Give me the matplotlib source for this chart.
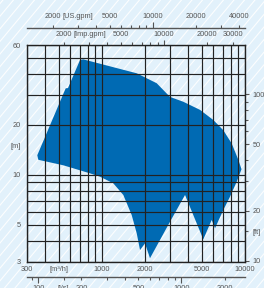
import numpy as np
import matplotlib.pyplot as plt
from matplotlib.lines import Line2D
from matplotlib.ticker import FixedLocator

plt.rcParams['font.family'] = ['Liberation Sans', 'DejaVu Sans']

# outline of the pump range, flow [m3/h] / head [m]
flow = [354, 559, 580, 704, 742, 1752, 2058, 2416, 2993, 3708, 4850, 6007, 7054,
        8077, 8982, 9454, 8752, 7857, 7054, 6173, 5852, 5113, 3811, 2993, 2169,
        2002, 1848, 1752, 1616, 1412, 1202, 971, 827, 538, 360]
head = [13.1, 33.0, 33.1, 48.8, 49.2, 40.6, 37.9, 35.4, 29.3, 27.4, 24.5, 21.3, 18.5,
        15.4, 12.3, 10.8, 9.09, 7.39, 6.15, 4.78, 5.36, 4.10, 7.57, 5.23, 3.16,
        3.88, 3.54, 4.46, 5.74, 7.57, 8.89, 9.74, 10.2, 11.4, 12.3]

# main scales
x_grid = [300, 400, 500, 600, 700, 800, 900, 1000, 2000, 3000, 4000, 5000,
          6000, 7000, 8000, 9000, 10000]
x_lab = {300: '300', 500: '[m³/h]', 1000: '1000', 2000: '2000', 5000: '5000',
         10000: '10000'}
y_grid = [3, 4, 5, 6, 7, 8, 9, 10, 20, 30, 40, 50, 60]
y_lab = {3: '3', 5: '5', 10: '10', 15: '[m]', 20: '20', 60: '60'}

# extra scales
us_major = [10000]
us_minor = [2000, 3000, 4000, 5000, 6000, 7000, 8000, 9000, 20000, 30000, 40000]
us_lab = {2000: '2000', 3000: '[US.gpm]', 5000: '5000', 10000: '10000',
          20000: '20000', 40000: '40000'}
imp_major = [10000]
imp_minor = [2000, 3000, 4000, 5000, 6000, 7000, 8000, 9000, 20000, 30000]
imp_lab = {2000: '2000', 3000: '[Imp.gpm]', 5000: '5000', 10000: '10000',
           20000: '20000', 30000: '30000'}
ls_major = [100, 1000]
ls_minor = [90, 150, 200, 300, 400, 500, 600, 700, 800, 900, 2000]
ls_lab = {100: '100', 150: '[l/s]', 200: '200', 500: '500', 1000: '1000', 2000: '2000'}
ft_major = [10, 20, 50, 100]
ft_minor = [15, 30, 40, 60, 70, 80, 90]
ft_lab = {10: '10', 15: '[ft]', 20: '20', 50: '50', 100: '100'}

BLUE = '#006ab3'
TXT = '#555555'
GRID = '#222222'
FS = 5.3

fig = plt.figure(figsize=(2.64, 2.88), dpi=100)
fig.patch.set_facecolor('#e2f1fb')

# diagonal stripes on the background
W, H = 264, 288
for x0 in np.arange(-300, 300, 10.5):
    fig.add_artist(Line2D([x0 / W, (x0 + H / 1.2) / W], [0, 1], color='white',
                          lw=0.8, alpha=0.9, zorder=-5, transform=fig.transFigure))

ax = fig.add_axes([27 / W, 1 - 262 / H, 218 / W, 217 / H])
ax.set_facecolor('none')
ax.set_xscale('log')
ax.set_yscale('log')
ax.set_xlim(300, 10000)
ax.set_ylim(3, 60)

ax.fill(flow, head, color=BLUE, lw=0, zorder=1)

for xv in x_grid:
    ax.axvline(xv, color=GRID, lw=0.85, zorder=3)
for yv in y_grid:
    ax.axhline(yv, color=GRID, lw=0.85, zorder=3)

ax.xaxis.set_major_locator(FixedLocator(list(x_lab)))
ax.set_xticklabels(list(x_lab.values()))
ax.xaxis.set_minor_locator(FixedLocator([]))
ax.yaxis.set_major_locator(FixedLocator(list(y_lab)))
ax.set_yticklabels(list(y_lab.values()))
ax.yaxis.set_minor_locator(FixedLocator([]))
ax.tick_params(axis='x', length=0, pad=2.6, labelsize=FS, labelcolor=TXT)
ax.tick_params(axis='y', length=0, pad=4.2, labelsize=FS, labelcolor=TXT)
for s in ax.spines.values():
    s.set_color(GRID)
    s.set_linewidth(1.0)
    s.set_zorder(4)


def setup_sec(sec, axis, major, minor, labels, maj_len, min_len, tot):
    a = sec.xaxis if axis == 'x' else sec.yaxis
    a.set_major_locator(FixedLocator(major))
    a.set_minor_locator(FixedLocator(minor))
    a.set_major_formatter(plt.FuncFormatter(lambda v, p: labels.get(int(round(v)), '')))
    a.set_minor_formatter(plt.FuncFormatter(lambda v, p: labels.get(int(round(v)), '')))
    sec.tick_params(axis=axis, which='major', length=maj_len, pad=tot - maj_len,
                    width=0.8, color=TXT, labelsize=FS, labelcolor=TXT)
    sec.tick_params(axis=axis, which='minor', length=min_len, pad=tot - min_len,
                    width=0.8, color=TXT, labelsize=FS, labelcolor=TXT)


# imperial gallons on top of the frame
imp = ax.secondary_xaxis('top', functions=(lambda q: q * 3.6661, lambda g: g / 3.6661))
setup_sec(imp, 'x', imp_major, imp_minor, imp_lab, 3.8, 1.9, 5.0)
imp.spines['top'].set_visible(False)

# US gallons further up
us = ax.secondary_xaxis(1 + 17 / 217, functions=(lambda q: q * 4.4029, lambda g: g / 4.4029))
setup_sec(us, 'x', us_major, us_minor, us_lab, 4.0, 2.2, 5.6)
us.spines['top'].set_color(TXT)
us.spines['top'].set_linewidth(1.0)

# litres per second below
ls = ax.secondary_xaxis(-15 / 217, functions=(lambda q: q / 3.6, lambda l: l * 3.6))
setup_sec(ls, 'x', ls_major, ls_minor, ls_lab, 4.2, 2.2, 5.4)
ls.spines['bottom'].set_color(TXT)
ls.spines['bottom'].set_linewidth(1.0)

# feet on the right
ft = ax.secondary_yaxis('right', functions=(lambda m: m * 3.28084, lambda f: f / 3.28084))
setup_sec(ft, 'y', ft_major, ft_minor, ft_lab, 3.0, 1.8, 5.6)
ft.spines['right'].set_visible(False)

fig.savefig('out.png', dpi=100, facecolor=fig.get_facecolor())
